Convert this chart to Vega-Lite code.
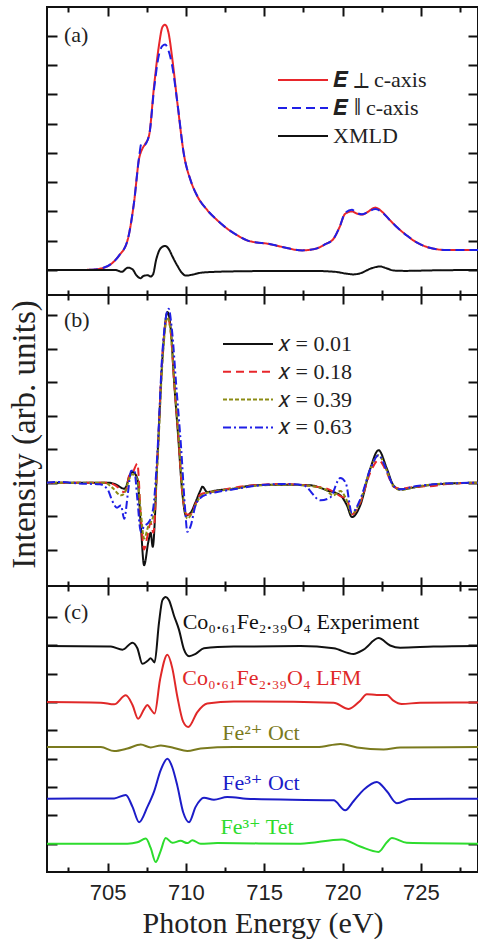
{
"$schema": "https://vega.github.io/schema/vega-lite/v6.json",
"padding": {"left": 6, "top": 5, "right": 0, "bottom": 0},
"background": "white",
"config": {
 "axis": {"domain": false, "grid": false, "tickColor": "#111", "tickWidth": 2, "labelFont": "Liberation Sans", "labelFontSize": 22, "labelColor": "#222", "titleFont": "Liberation Serif", "titleFontWeight": "normal", "titleColor": "#222"},
 "view": {"stroke": "#111", "strokeWidth": 2},
 "concat": {"spacing": 0}
},
"datasets": {
 "a": [
  {"s":"perp","E":701.13,"v":0},{"s":"perp","E":703.0,"v":0},{"s":"perp","E":704.0,"v":0.01},{"s":"perp","E":704.57,"v":0.05},{"s":"perp","E":705.21,"v":0.2},{"s":"perp","E":705.74,"v":0.5},{"s":"perp","E":706.27,"v":1.01},{"s":"perp","E":706.69,"v":2.32},{"s":"perp","E":707.01,"v":3.8},{"s":"perp","E":707.22,"v":4.14},{"s":"perp","E":707.4,"v":4.3},{"s":"perp","E":707.65,"v":4.6},{"s":"perp","E":707.97,"v":6.3},{"s":"perp","E":708.28,"v":7.67},{"s":"perp","E":708.5,"v":8.29},{"s":"perp","E":708.67,"v":8.37},{"s":"perp","E":708.88,"v":8.12},{"s":"perp","E":709.13,"v":7.21},{"s":"perp","E":709.45,"v":5.73},{"s":"perp","E":709.88,"v":3.92},{"s":"perp","E":710.3,"v":3.06},{"s":"perp","E":710.7,"v":2.55},{"s":"perp","E":711.37,"v":2.04},{"s":"perp","E":712.0,"v":1.7},{"s":"perp","E":712.64,"v":1.41},{"s":"perp","E":713.3,"v":1.18},{"s":"perp","E":713.91,"v":1.01},{"s":"perp","E":714.5,"v":0.94},{"s":"perp","E":715.19,"v":0.9},{"s":"perp","E":715.8,"v":0.83},{"s":"perp","E":716.46,"v":0.75},{"s":"perp","E":717.0,"v":0.69},{"s":"perp","E":717.42,"v":0.67},{"s":"perp","E":717.9,"v":0.69},{"s":"perp","E":718.37,"v":0.74},{"s":"perp","E":718.9,"v":0.88},{"s":"perp","E":719.43,"v":1.07},{"s":"perp","E":719.8,"v":1.45},{"s":"perp","E":720.17,"v":1.92},{"s":"perp","E":720.6,"v":2.0},{"s":"perp","E":720.9,"v":1.93},{"s":"perp","E":721.24,"v":1.89},{"s":"perp","E":721.6,"v":1.98},{"s":"perp","E":722.09,"v":2.13},{"s":"perp","E":722.5,"v":2.0},{"s":"perp","E":722.94,"v":1.75},{"s":"perp","E":723.5,"v":1.45},{"s":"perp","E":724.1,"v":1.18},{"s":"perp","E":724.7,"v":0.95},{"s":"perp","E":725.37,"v":0.79},{"s":"perp","E":726.0,"v":0.71},{"s":"perp","E":726.65,"v":0.68},{"s":"perp","E":728.65,"v":0.68},
  {"s":"par","E":701.13,"v":0},{"s":"par","E":703.0,"v":0},{"s":"par","E":704.0,"v":0.01},{"s":"par","E":704.57,"v":0.05},{"s":"par","E":705.21,"v":0.2},{"s":"par","E":705.74,"v":0.5},{"s":"par","E":706.27,"v":1.01},{"s":"par","E":706.69,"v":2.32},{"s":"par","E":707.01,"v":3.85},{"s":"par","E":707.15,"v":4.3},{"s":"par","E":707.3,"v":4.25},{"s":"par","E":707.65,"v":4.6},{"s":"par","E":707.97,"v":6.2},{"s":"par","E":708.28,"v":7.35},{"s":"par","E":708.5,"v":7.65},{"s":"par","E":708.67,"v":7.7},{"s":"par","E":708.88,"v":7.5},{"s":"par","E":709.13,"v":6.95},{"s":"par","E":709.45,"v":5.73},{"s":"par","E":709.88,"v":3.92},{"s":"par","E":710.3,"v":3.06},{"s":"par","E":710.7,"v":2.55},{"s":"par","E":711.37,"v":2.04},{"s":"par","E":712.0,"v":1.7},{"s":"par","E":712.64,"v":1.41},{"s":"par","E":713.3,"v":1.18},{"s":"par","E":713.91,"v":1.01},{"s":"par","E":714.5,"v":0.94},{"s":"par","E":715.19,"v":0.9},{"s":"par","E":715.8,"v":0.83},{"s":"par","E":716.46,"v":0.75},{"s":"par","E":717.0,"v":0.69},{"s":"par","E":717.42,"v":0.67},{"s":"par","E":717.9,"v":0.69},{"s":"par","E":718.37,"v":0.74},{"s":"par","E":718.9,"v":0.88},{"s":"par","E":719.43,"v":1.07},{"s":"par","E":719.8,"v":1.45},{"s":"par","E":720.17,"v":1.95},{"s":"par","E":720.6,"v":2.06},{"s":"par","E":720.9,"v":1.95},{"s":"par","E":721.24,"v":1.9},{"s":"par","E":721.6,"v":1.97},{"s":"par","E":722.09,"v":2.08},{"s":"par","E":722.5,"v":1.98},{"s":"par","E":722.94,"v":1.75},{"s":"par","E":723.5,"v":1.45},{"s":"par","E":724.1,"v":1.18},{"s":"par","E":724.7,"v":0.95},{"s":"par","E":725.37,"v":0.79},{"s":"par","E":726.0,"v":0.71},{"s":"par","E":726.65,"v":0.68},{"s":"par","E":728.65,"v":0.68},
  {"s":"xmld","E":701.13,"v":0},{"s":"xmld","E":705.5,"v":0},{"s":"xmld","E":705.9,"v":-0.06},{"s":"xmld","E":706.3,"v":0.08},{"s":"xmld","E":706.6,"v":0.02},{"s":"xmld","E":706.8,"v":-0.15},{"s":"xmld","E":707.1,"v":-0.28},{"s":"xmld","E":707.3,"v":-0.2},{"s":"xmld","E":707.55,"v":-0.18},{"s":"xmld","E":707.75,"v":-0.22},{"s":"xmld","E":707.9,"v":-0.15},{"s":"xmld","E":708.1,"v":0.35},{"s":"xmld","E":708.4,"v":0.75},{"s":"xmld","E":708.67,"v":0.82},{"s":"xmld","E":708.9,"v":0.72},{"s":"xmld","E":709.15,"v":0.45},{"s":"xmld","E":709.45,"v":0.15},{"s":"xmld","E":709.75,"v":-0.1},{"s":"xmld","E":710.0,"v":-0.19},{"s":"xmld","E":710.4,"v":-0.16},{"s":"xmld","E":711.0,"v":-0.09},{"s":"xmld","E":712.0,"v":-0.06},{"s":"xmld","E":714.0,"v":-0.04},{"s":"xmld","E":716.0,"v":-0.03},{"s":"xmld","E":718.0,"v":-0.03},{"s":"xmld","E":719.5,"v":-0.06},{"s":"xmld","E":720.2,"v":-0.12},{"s":"xmld","E":720.7,"v":-0.15},{"s":"xmld","E":721.2,"v":-0.1},{"s":"xmld","E":721.8,"v":0.05},{"s":"xmld","E":722.4,"v":0.12},{"s":"xmld","E":722.8,"v":0.06},{"s":"xmld","E":723.3,"v":-0.02},{"s":"xmld","E":724.0,"v":-0.03},{"s":"xmld","E":726.0,"v":-0.01},{"s":"xmld","E":728.65,"v":0}
 ],
 "b": [
  {"s":"x01","E":701.13,"v":0},{"s":"x01","E":704.99,"v":0},{"s":"x01","E":705.5,"v":-0.05},{"s":"x01","E":706.06,"v":-0.18},{"s":"x01","E":706.2,"v":-0.1},{"s":"x01","E":706.37,"v":0.17},{"s":"x01","E":706.59,"v":0.32},{"s":"x01","E":706.9,"v":0.12},{"s":"x01","E":707.12,"v":-1.28},{"s":"x01","E":707.33,"v":-2.47},{"s":"x01","E":707.6,"v":-1.77},{"s":"x01","E":707.75,"v":-1.5},{"s":"x01","E":707.88,"v":-1.92},{"s":"x01","E":708.18,"v":0.72},{"s":"x01","E":708.5,"v":3.71},{"s":"x01","E":708.82,"v":5.1},{"s":"x01","E":709.03,"v":4.6},{"s":"x01","E":709.25,"v":3.0},{"s":"x01","E":709.5,"v":1.42},{"s":"x01","E":709.77,"v":-0.3},{"s":"x01","E":710.0,"v":-0.98},{"s":"x01","E":710.3,"v":-0.9},{"s":"x01","E":710.6,"v":-0.6},{"s":"x01","E":710.94,"v":-0.22},{"s":"x01","E":711.05,"v":-0.12},{"s":"x01","E":711.36,"v":-0.28},{"s":"x01","E":712.0,"v":-0.23},{"s":"x01","E":713.06,"v":-0.18},{"s":"x01","E":714.34,"v":-0.08},{"s":"x01","E":716.25,"v":-0.06},{"s":"x01","E":717.95,"v":-0.08},{"s":"x01","E":719.01,"v":-0.23},{"s":"x01","E":719.86,"v":-0.38},{"s":"x01","E":720.28,"v":-0.68},{"s":"x01","E":720.6,"v":-1.03},{"s":"x01","E":721.13,"v":-0.68},{"s":"x01","E":721.77,"v":0.42},{"s":"x01","E":722.3,"v":0.97},{"s":"x01","E":722.83,"v":0.42},{"s":"x01","E":723.25,"v":-0.08},{"s":"x01","E":723.68,"v":-0.2},{"s":"x01","E":724.74,"v":-0.13},{"s":"x01","E":725.8,"v":-0.06},{"s":"x01","E":728.65,"v":0},
  {"s":"x18","E":701.13,"v":0},{"s":"x18","E":705.0,"v":0},{"s":"x18","E":705.5,"v":-0.08},{"s":"x18","E":706.06,"v":-0.28},{"s":"x18","E":706.2,"v":-0.2},{"s":"x18","E":706.37,"v":0.2},{"s":"x18","E":706.6,"v":0.3},{"s":"x18","E":706.9,"v":0.57},{"s":"x18","E":707.12,"v":-1.0},{"s":"x18","E":707.33,"v":-2.0},{"s":"x18","E":707.54,"v":-1.6},{"s":"x18","E":707.75,"v":-1.2},{"s":"x18","E":707.92,"v":-1.5},{"s":"x18","E":708.18,"v":0.7},{"s":"x18","E":708.5,"v":3.8},{"s":"x18","E":708.82,"v":4.95},{"s":"x18","E":709.03,"v":4.5},{"s":"x18","E":709.25,"v":3.0},{"s":"x18","E":709.5,"v":1.5},{"s":"x18","E":709.77,"v":-0.3},{"s":"x18","E":710.05,"v":-0.95},{"s":"x18","E":710.3,"v":-0.95},{"s":"x18","E":710.6,"v":-0.65},{"s":"x18","E":710.94,"v":-0.35},{"s":"x18","E":711.36,"v":-0.3},{"s":"x18","E":712.0,"v":-0.25},{"s":"x18","E":713.06,"v":-0.15},{"s":"x18","E":714.34,"v":-0.08},{"s":"x18","E":716.25,"v":-0.04},{"s":"x18","E":717.95,"v":-0.1},{"s":"x18","E":719.01,"v":-0.18},{"s":"x18","E":719.86,"v":-0.4},{"s":"x18","E":720.28,"v":-0.5},{"s":"x18","E":720.6,"v":-0.95},{"s":"x18","E":721.13,"v":-0.6},{"s":"x18","E":721.77,"v":0.3},{"s":"x18","E":722.3,"v":0.67},{"s":"x18","E":722.83,"v":0.3},{"s":"x18","E":723.25,"v":-0.12},{"s":"x18","E":723.68,"v":-0.18},{"s":"x18","E":724.74,"v":-0.12},{"s":"x18","E":725.8,"v":-0.1},{"s":"x18","E":726.5,"v":-0.05},{"s":"x18","E":728.65,"v":0},
  {"s":"x39","E":701.13,"v":0},{"s":"x39","E":704.8,"v":0},{"s":"x39","E":705.3,"v":-0.15},{"s":"x39","E":705.85,"v":-0.38},{"s":"x39","E":706.1,"v":-0.3},{"s":"x39","E":706.37,"v":0.1},{"s":"x39","E":706.6,"v":0.25},{"s":"x39","E":706.9,"v":0.1},{"s":"x39","E":707.12,"v":-0.9},{"s":"x39","E":707.33,"v":-1.67},{"s":"x39","E":707.6,"v":-1.3},{"s":"x39","E":707.92,"v":-1.0},{"s":"x39","E":708.18,"v":0.6},{"s":"x39","E":708.5,"v":3.6},{"s":"x39","E":708.82,"v":4.95},{"s":"x39","E":709.03,"v":4.5},{"s":"x39","E":709.3,"v":2.8},{"s":"x39","E":709.55,"v":1.3},{"s":"x39","E":709.8,"v":-0.3},{"s":"x39","E":710.09,"v":-1.08},{"s":"x39","E":710.4,"v":-0.9},{"s":"x39","E":710.8,"v":-0.5},{"s":"x39","E":711.36,"v":-0.3},{"s":"x39","E":712.0,"v":-0.25},{"s":"x39","E":713.06,"v":-0.18},{"s":"x39","E":714.34,"v":-0.1},{"s":"x39","E":716.25,"v":-0.06},{"s":"x39","E":717.95,"v":-0.1},{"s":"x39","E":718.9,"v":-0.2},{"s":"x39","E":719.4,"v":-0.38},{"s":"x39","E":719.86,"v":-0.25},{"s":"x39","E":720.2,"v":-0.45},{"s":"x39","E":720.6,"v":-0.93},{"s":"x39","E":721.13,"v":-0.55},{"s":"x39","E":721.77,"v":0.4},{"s":"x39","E":722.3,"v":0.82},{"s":"x39","E":722.83,"v":0.35},{"s":"x39","E":723.25,"v":-0.1},{"s":"x39","E":723.68,"v":-0.22},{"s":"x39","E":724.74,"v":-0.12},{"s":"x39","E":725.8,"v":-0.05},{"s":"x39","E":728.65,"v":0},
  {"s":"x63","E":701.13,"v":0},{"s":"x63","E":702.0,"v":0.02},{"s":"x63","E":703.0,"v":-0.02},{"s":"x63","E":704.5,"v":-0.05},{"s":"x63","E":705.0,"v":-0.2},{"s":"x63","E":705.3,"v":-0.55},{"s":"x63","E":705.6,"v":-0.75},{"s":"x63","E":705.85,"v":-0.68},{"s":"x63","E":706.06,"v":-1.08},{"s":"x63","E":706.3,"v":-0.3},{"s":"x63","E":706.5,"v":0.35},{"s":"x63","E":706.7,"v":0.37},{"s":"x63","E":706.9,"v":-0.5},{"s":"x63","E":707.12,"v":-1.47},{"s":"x63","E":707.33,"v":-1.3},{"s":"x63","E":707.6,"v":-1.2},{"s":"x63","E":707.9,"v":-0.8},{"s":"x63","E":708.18,"v":0.9},{"s":"x63","E":708.5,"v":3.9},{"s":"x63","E":708.9,"v":5.2},{"s":"x63","E":709.1,"v":4.6},{"s":"x63","E":709.4,"v":2.8},{"s":"x63","E":709.7,"v":1.0},{"s":"x63","E":709.95,"v":-0.8},{"s":"x63","E":710.09,"v":-1.47},{"s":"x63","E":710.3,"v":-1.3},{"s":"x63","E":710.6,"v":-0.7},{"s":"x63","E":710.94,"v":-0.45},{"s":"x63","E":711.36,"v":-0.35},{"s":"x63","E":712.0,"v":-0.28},{"s":"x63","E":713.06,"v":-0.2},{"s":"x63","E":714.34,"v":-0.1},{"s":"x63","E":716.25,"v":-0.04},{"s":"x63","E":717.5,"v":-0.08},{"s":"x63","E":718.6,"v":-0.53},{"s":"x63","E":719.2,"v":-0.45},{"s":"x63","E":719.86,"v":0.14},{"s":"x63","E":720.2,"v":0.0},{"s":"x63","E":720.6,"v":-0.9},{"s":"x63","E":721.13,"v":-0.5},{"s":"x63","E":721.77,"v":0.4},{"s":"x63","E":722.3,"v":0.82},{"s":"x63","E":722.83,"v":0.35},{"s":"x63","E":723.25,"v":-0.1},{"s":"x63","E":723.68,"v":-0.2},{"s":"x63","E":724.74,"v":-0.1},{"s":"x63","E":725.8,"v":-0.05},{"s":"x63","E":728.65,"v":0}
 ],
 "c": [
  {"s":"exp","E":701.13,"v":7.98},{"s":"exp","E":705.21,"v":7.96},{"s":"exp","E":705.95,"v":7.85},{"s":"exp","E":706.59,"v":8.1},{"s":"exp","E":706.9,"v":7.9},{"s":"exp","E":707.22,"v":7.35},{"s":"exp","E":707.54,"v":7.45},{"s":"exp","E":707.75,"v":7.55},{"s":"exp","E":708.0,"v":7.4},{"s":"exp","E":708.28,"v":8.8},{"s":"exp","E":708.5,"v":9.6},{"s":"exp","E":708.71,"v":9.71},{"s":"exp","E":708.92,"v":9.6},{"s":"exp","E":709.24,"v":9.05},{"s":"exp","E":709.56,"v":8.55},{"s":"exp","E":709.88,"v":7.85},{"s":"exp","E":710.2,"v":7.62},{"s":"exp","E":710.62,"v":7.7},{"s":"exp","E":711.15,"v":7.9},{"s":"exp","E":713.06,"v":7.96},{"s":"exp","E":717.31,"v":7.98},{"s":"exp","E":719.43,"v":7.9},{"s":"exp","E":720.7,"v":7.7},{"s":"exp","E":721.34,"v":7.85},{"s":"exp","E":722.3,"v":8.26},{"s":"exp","E":723.04,"v":8.0},{"s":"exp","E":723.68,"v":7.92},{"s":"exp","E":725.8,"v":7.96},{"s":"exp","E":728.65,"v":7.98},
  {"s":"lfm","E":701.13,"v":6.0},{"s":"lfm","E":704.57,"v":5.98},{"s":"lfm","E":705.42,"v":5.92},{"s":"lfm","E":706.16,"v":6.24},{"s":"lfm","E":706.59,"v":5.9},{"s":"lfm","E":706.95,"v":5.41},{"s":"lfm","E":707.33,"v":5.75},{"s":"lfm","E":707.54,"v":5.9},{"s":"lfm","E":707.75,"v":5.75},{"s":"lfm","E":708.0,"v":5.6},{"s":"lfm","E":708.35,"v":6.8},{"s":"lfm","E":708.82,"v":7.67},{"s":"lfm","E":709.13,"v":7.2},{"s":"lfm","E":709.45,"v":6.2},{"s":"lfm","E":709.83,"v":5.3},{"s":"lfm","E":710.15,"v":5.12},{"s":"lfm","E":710.73,"v":5.65},{"s":"lfm","E":711.36,"v":5.95},{"s":"lfm","E":713.06,"v":6.02},{"s":"lfm","E":719.43,"v":5.98},{"s":"lfm","E":720.39,"v":5.76},{"s":"lfm","E":721.13,"v":6.05},{"s":"lfm","E":721.55,"v":6.28},{"s":"lfm","E":722.19,"v":6.25},{"s":"lfm","E":722.83,"v":6.25},{"s":"lfm","E":723.25,"v":6.05},{"s":"lfm","E":723.78,"v":5.93},{"s":"lfm","E":724.95,"v":5.98},{"s":"lfm","E":728.65,"v":5.99},
  {"s":"fe2o","E":701.13,"v":4.41},{"s":"fe2o","E":704.57,"v":4.41},{"s":"fe2o","E":705.42,"v":4.27},{"s":"fe2o","E":706.27,"v":4.36},{"s":"fe2o","E":707.12,"v":4.5},{"s":"fe2o","E":707.75,"v":4.4},{"s":"fe2o","E":708.4,"v":4.47},{"s":"fe2o","E":709.24,"v":4.38},{"s":"fe2o","E":710.09,"v":4.27},{"s":"fe2o","E":710.94,"v":4.36},{"s":"fe2o","E":713.06,"v":4.41},{"s":"fe2o","E":718.37,"v":4.41},{"s":"fe2o","E":719.86,"v":4.52},{"s":"fe2o","E":720.92,"v":4.4},{"s":"fe2o","E":722.62,"v":4.33},{"s":"fe2o","E":723.68,"v":4.4},{"s":"fe2o","E":728.65,"v":4.41},
  {"s":"fe3o","E":701.13,"v":2.59},{"s":"fe3o","E":705.42,"v":2.6},{"s":"fe3o","E":706.16,"v":2.72},{"s":"fe3o","E":706.59,"v":2.3},{"s":"fe3o","E":707.01,"v":1.76},{"s":"fe3o","E":707.54,"v":2.3},{"s":"fe3o","E":707.97,"v":2.85},{"s":"fe3o","E":708.39,"v":3.6},{"s":"fe3o","E":708.82,"v":4.0},{"s":"fe3o","E":709.13,"v":3.7},{"s":"fe3o","E":709.45,"v":3.05},{"s":"fe3o","E":709.83,"v":2.1},{"s":"fe3o","E":710.2,"v":1.76},{"s":"fe3o","E":710.62,"v":2.3},{"s":"fe3o","E":711.15,"v":2.62},{"s":"fe3o","E":711.79,"v":2.55},{"s":"fe3o","E":712.64,"v":2.65},{"s":"fe3o","E":714.12,"v":2.58},{"s":"fe3o","E":719.43,"v":2.53},{"s":"fe3o","E":720.17,"v":2.18},{"s":"fe3o","E":720.7,"v":2.5},{"s":"fe3o","E":721.34,"v":2.9},{"s":"fe3o","E":722.19,"v":3.18},{"s":"fe3o","E":722.83,"v":2.85},{"s":"fe3o","E":723.47,"v":2.43},{"s":"fe3o","E":724.31,"v":2.58},{"s":"fe3o","E":728.65,"v":2.59},
  {"s":"fe3t","E":701.13,"v":1.0},{"s":"fe3t","E":706.27,"v":1.0},{"s":"fe3t","E":706.9,"v":1.05},{"s":"fe3t","E":707.44,"v":1.18},{"s":"fe3t","E":707.75,"v":0.85},{"s":"fe3t","E":708.07,"v":0.35},{"s":"fe3t","E":708.39,"v":0.75},{"s":"fe3t","E":708.71,"v":1.2},{"s":"fe3t","E":709.13,"v":1.03},{"s":"fe3t","E":709.66,"v":1.1},{"s":"fe3t","E":710.09,"v":1.02},{"s":"fe3t","E":710.41,"v":1.12},{"s":"fe3t","E":710.94,"v":1.0},{"s":"fe3t","E":712.0,"v":1.02},{"s":"fe3t","E":717.31,"v":1.0},{"s":"fe3t","E":719.96,"v":1.15},{"s":"fe3t","E":721.13,"v":0.9},{"s":"fe3t","E":722.3,"v":0.71},{"s":"fe3t","E":722.83,"v":1.05},{"s":"fe3t","E":723.15,"v":1.2},{"s":"fe3t","E":724.1,"v":1.03},{"s":"fe3t","E":728.65,"v":1.0}
 ],
 "clab": [
  {"s":"exp","t":"Co₀.₆₁Fe₂.₃₉O₄ Experiment","E":709.79,"v":8.59},
  {"s":"lfm","t":"Co₀.₆₁Fe₂.₃₉O₄ LFM","E":709.77,"v":6.59},
  {"s":"fe2o","t":"Fe²⁺ Oct","E":712.32,"v":4.65},
  {"s":"fe3o","t":"Fe³⁺ Oct","E":712.32,"v":2.88},
  {"s":"fe3t","t":"Fe³⁺ Tet","E":712.21,"v":1.35}
 ]
},
"spacing": 0,
"bounds": "flush",
"resolve": {"scale": {"color": "independent", "strokeDash": "independent", "x": "independent", "y": "independent"}, "legend": {"color": "independent", "strokeDash": "independent"}},
"vconcat": [
 {
  "width": 431, "height": 288,
  "layer": [
   {"data": {"name": "a"}, "mark": {"type": "line", "strokeWidth": 2, "interpolate": "monotone"},
    "encoding": {
     "x": {"field": "E", "type": "quantitative", "scale": {"domain": [701.13, 728.65], "nice": false, "zero": false},
       "axis": {"orient": "bottom", "values": [702.5,705,707.5,710,712.5,715,717.5,720,722.5,725,727.5], "tickSize": {"condition": {"test": "datum.value % 5 === 0", "value": -9}, "value": -5}, "labels": false, "title": null}},
     "y": {"field": "v", "type": "quantitative", "scale": {"domain": [-0.853, 8.976], "nice": false, "zero": false},
       "axis": {"orient": "left", "values": [0,1,2,3,4,5,6,7,8], "tickSize": -10, "labels": false, "title": "Intensity (arb. units)", "titleFontSize": 33, "titleOpacity": 0, "titlePadding": 5}},
     "color": {"field": "s", "type": "nominal", "scale": {"domain": ["perp","par","xmld"], "range": ["#e8262b","#1f1fe6","#111111"]},
       "legend": {"orient": "none", "legendX": 230, "legendY": 62, "title": null, "symbolType": "stroke", "symbolSize": 2500, "symbolStrokeWidth": 2, "clipHeight": 22, "rowPadding": 6, "padding": 0, "labelFont": "Liberation Serif", "labelFontSize": 22, "labelColor": "#222", "labelOffset": 4, "labelExpr": "datum.value === 'perp' ? '𝑬 ⊥ c-axis' : datum.value === 'par' ? '𝑬 ∥ c-axis' : 'XMLD'"}},
     "strokeDash": {"field": "s", "type": "nominal", "scale": {"domain": ["perp","par","xmld"], "range": [[1,0],[9,5],[1,0]]},
       "legend": {"orient": "none", "legendX": 230, "legendY": 62, "title": null, "symbolType": "stroke", "symbolSize": 2500, "symbolStrokeWidth": 2, "clipHeight": 22, "rowPadding": 6, "padding": 0, "labelFont": "Liberation Serif", "labelFontSize": 22, "labelColor": "#222", "labelOffset": 4, "labelExpr": "datum.value === 'perp' ? '𝑬 ⊥ c-axis' : datum.value === 'par' ? '𝑬 ∥ c-axis' : 'XMLD'"}}
    }},
   {"data": {"name": "a"}, "mark": {"type": "line", "opacity": 0},
    "encoding": {
     "x": {"field": "E", "type": "quantitative", "axis": {"orient": "top", "values": [702.5,705,707.5,710,712.5,715,717.5,720,722.5,725,727.5], "tickSize": {"condition": {"test": "datum.value % 5 === 0", "value": -9}, "value": -5}, "labels": false, "title": null}},
     "y": {"field": "v", "type": "quantitative", "axis": {"orient": "right", "values": [0,1,2,3,4,5,6,7,8], "tickSize": -10, "labels": false, "title": null}},
     "detail": {"field": "s"}
    }},
   {"data": {"values": [{"t": "(a)", "E": 702.21, "v": 7.78}]}, "mark": {"type": "text", "align": "left", "baseline": "alphabetic", "font": "Liberation Serif", "fontSize": 22, "color": "#222"},
    "encoding": {"x": {"field": "E", "type": "quantitative", "axis": null}, "y": {"field": "v", "type": "quantitative", "axis": null}, "text": {"field": "t"}}}
  ],
  "resolve": {"axis": {"x": "independent", "y": "independent"}}
 },
 {
  "width": 431, "height": 291,
  "layer": [
   {"data": {"name": "b"}, "mark": {"type": "line", "strokeWidth": 2, "interpolate": "monotone"},
    "encoding": {
     "x": {"field": "E", "type": "quantitative", "scale": {"domain": [701.13, 728.65], "nice": false, "zero": false},
       "axis": {"orient": "bottom", "values": [702.5,705,707.5,710,712.5,715,717.5,720,722.5,725,727.5], "tickSize": {"condition": {"test": "datum.value % 5 === 0", "value": -9}, "value": -5}, "labels": false, "title": null}},
     "y": {"field": "v", "type": "quantitative", "scale": {"domain": [-3.09, 5.61], "nice": false, "zero": false},
       "axis": {"orient": "left", "values": [-2,-1,0,1,2,3,4,5], "tickSize": -10, "labels": false, "title": "Intensity (arb. units)", "titleFontSize": 33, "titlePadding": 5, "titleY": 139}},
     "color": {"field": "s", "type": "nominal", "scale": {"domain": ["x01","x18","x39","x63"], "range": ["#111111","#e8262b","#8c8c14","#1f1fe6"]},
       "legend": {"orient": "none", "legendX": 175, "legendY": 38, "title": null, "symbolType": "stroke", "symbolSize": 2500, "symbolStrokeWidth": 2, "clipHeight": 22, "rowPadding": 5.8, "padding": 0, "labelFont": "Liberation Serif", "labelFontSize": 22, "labelColor": "#222", "labelOffset": 4, "labelExpr": "datum.value === 'x01' ? '𝑥 = 0.01' : datum.value === 'x18' ? '𝑥 = 0.18' : datum.value === 'x39' ? '𝑥 = 0.39' : '𝑥 = 0.63'"}},
     "strokeDash": {"field": "s", "type": "nominal", "scale": {"domain": ["x01","x18","x39","x63"], "range": [[1,0],[8,5],[4,2],[8,3,2,3]]},
       "legend": {"orient": "none", "legendX": 175, "legendY": 38, "title": null, "symbolType": "stroke", "symbolSize": 2500, "symbolStrokeWidth": 2, "clipHeight": 22, "rowPadding": 5.8, "padding": 0, "labelFont": "Liberation Serif", "labelFontSize": 22, "labelColor": "#222", "labelOffset": 4, "labelExpr": "datum.value === 'x01' ? '𝑥 = 0.01' : datum.value === 'x18' ? '𝑥 = 0.18' : datum.value === 'x39' ? '𝑥 = 0.39' : '𝑥 = 0.63'"}}
    }},
   {"data": {"name": "b"}, "mark": {"type": "line", "opacity": 0},
    "encoding": {
     "x": {"field": "E", "type": "quantitative", "axis": {"orient": "top", "values": [702.5,705,707.5,710,712.5,715,717.5,720,722.5,725,727.5], "tickSize": {"condition": {"test": "datum.value % 5 === 0", "value": -9}, "value": -5}, "labels": false, "title": null}},
     "y": {"field": "v", "type": "quantitative", "axis": {"orient": "right", "values": [-2,-1,0,1,2,3,4,5], "tickSize": -10, "labels": false, "title": null}},
     "detail": {"field": "s"}
    }},
   {"data": {"values": [{"t": "(b)", "E": 702.21, "v": 4.66}]}, "mark": {"type": "text", "align": "left", "baseline": "alphabetic", "font": "Liberation Serif", "fontSize": 22, "color": "#222"},
    "encoding": {"x": {"field": "E", "type": "quantitative", "axis": null}, "y": {"field": "v", "type": "quantitative", "axis": null}, "text": {"field": "t"}}}
  ],
  "resolve": {"axis": {"x": "independent", "y": "independent"}}
 },
 {
  "width": 431, "height": 286,
  "layer": [
   {"data": {"name": "c"}, "mark": {"type": "line", "strokeWidth": 2, "interpolate": "monotone"},
    "encoding": {
     "x": {"field": "E", "type": "quantitative", "scale": {"domain": [701.13, 728.65], "nice": false, "zero": false},
       "axis": {"orient": "bottom", "values": [702.5,705,707.5,710,712.5,715,717.5,720,722.5,725,727.5], "tickSize": {"condition": {"test": "datum.value % 5 === 0", "value": -9}, "value": -5}, "labelExpr": "datum.value % 5 === 0 ? format(datum.value, 'd') : ''", "labelPadding": 19, "title": "Photon Energy (eV)", "titleFontSize": 30, "titlePadding": 5}},
     "y": {"field": "v", "type": "quantitative", "scale": {"domain": [0, 10.1], "nice": false, "zero": false},
       "axis": {"orient": "left", "values": [1,2,3,4,5,6,7,8,9], "tickSize": -10, "labels": false, "title": "Intensity (arb. units)", "titleFontSize": 33, "titleOpacity": 0, "titlePadding": 5}},
     "color": {"field": "s", "type": "nominal", "scale": {"domain": ["exp","lfm","fe2o","fe3o","fe3t"], "range": ["#111111","#e02828","#7a7a1e","#1c1cc8","#2ddc2d"]}, "legend": null}
    }},
   {"data": {"name": "c"}, "mark": {"type": "line", "opacity": 0},
    "encoding": {
     "x": {"field": "E", "type": "quantitative", "axis": {"orient": "top", "values": [702.5,705,707.5,710,712.5,715,717.5,720,722.5,725,727.5], "tickSize": {"condition": {"test": "datum.value % 5 === 0", "value": -9}, "value": -5}, "labels": false, "title": null}},
     "y": {"field": "v", "type": "quantitative", "axis": {"orient": "right", "values": [1,2,3,4,5,6,7,8,9,10], "tickSize": -10, "labels": false, "title": null}},
     "detail": {"field": "s"}
    }},
   {"data": {"name": "clab"}, "mark": {"type": "text", "align": "left", "baseline": "alphabetic", "font": "Liberation Serif, DejaVu Serif", "fontSize": 22},
    "encoding": {"x": {"field": "E", "type": "quantitative", "axis": null}, "y": {"field": "v", "type": "quantitative", "axis": null}, "text": {"field": "t"}, "color": {"field": "s", "type": "nominal", "legend": null}}},
   {"data": {"values": [{"t": "(c)", "E": 702.21, "v": 8.94}]}, "mark": {"type": "text", "align": "left", "baseline": "alphabetic", "font": "Liberation Serif", "fontSize": 22, "color": "#222"},
    "encoding": {"x": {"field": "E", "type": "quantitative", "axis": null}, "y": {"field": "v", "type": "quantitative", "axis": null}, "text": {"field": "t"}}}
  ],
  "resolve": {"axis": {"x": "independent", "y": "independent"}}
 }
]
}
